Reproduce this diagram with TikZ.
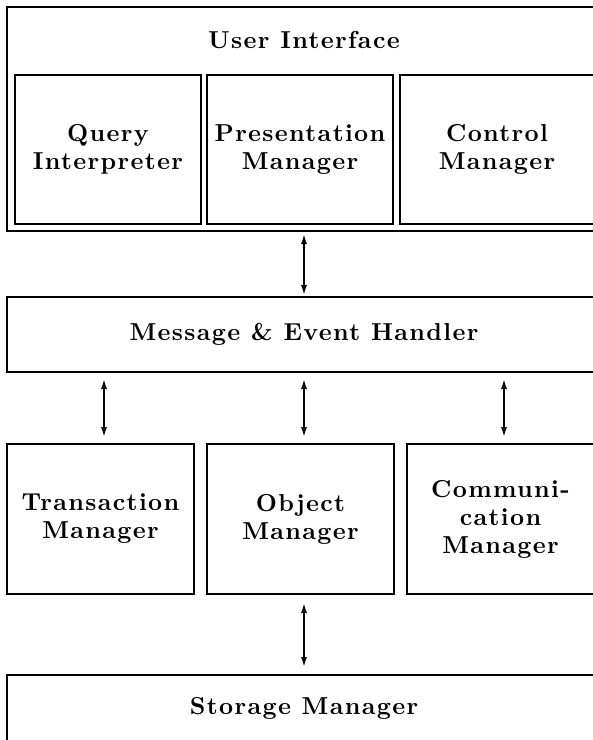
\documentclass[tikz,border=0pt]{standalone}
\usepackage{fontspec}
\setmainfont{lmroman10-regular.otf}[BoldFont=lmroman10-bold.otf]
\usetikzlibrary{arrows.meta,positioning}

\begin{document}
\begin{tikzpicture}[x=1pt,y=-1pt]

		\tikzstyle{boxtext}=[font=\fontsize{24.5}{28}\selectfont\bfseries\addfontfeatures{LetterSpace=5.5}]
		\tikzstyle{module}=[rectangle,boxtext,
			draw=black,line width=2.8pt,
			minimum width=186pt,minimum height=149pt,
			align=center,inner sep=0pt,outer sep=0pt]
		\tikzstyle{layer}=[module,minimum width=594pt]
		\tikzstyle{arrow}=[{Latex[length=11pt,width=6pt]}-{Latex[length=11pt,width=6pt]},
			draw=black,line width=2.6pt,
			shorten <=6pt,shorten >=6pt]

		\useasboundingbox (0,0) rectangle (593,740);
		\clip (0,0) rectangle (593,740);

		% user interface layer
		\node[layer,minimum height=224pt]	(ui)	at (304,119)	{};
		\node[boxtext]	(ui-title)	at (304,40)	{User Interface};
		\node[module]	(query)	at (108,149.5)	{Query\\ Interpreter};
		\node[module,right=6pt of query]	(present)	{Presentation\\ Manager};
		\node[module,right=7pt of present,minimum width=194pt]	(control)	{Control\\ Manager};

		\node[layer,minimum height=75pt]	(msg)	at (304,334.5)	{Message \& Event Handler};

		% managers
		\node[module,minimum width=187pt,minimum height=150pt]	(trans)	at (100.5,519)	{Transaction\\ Manager};
		\node[module,minimum width=187pt,minimum height=150pt,right=13pt of trans]	(object)	{Object\\ Manager};
		\node[module,minimum width=187pt,minimum height=150pt,right=13pt of object]	(comm)	{Communi-\\ cation\\ Manager};

		\node[layer,minimum height=66pt]	(store)	at (304,708)	{Storage Manager};

		\coordinate (msg-l) at ([xshift=-200pt]msg.south);
		\coordinate (msg-r) at ([xshift=200pt]msg.south);

		\draw[arrow,shorten <=2pt,shorten >=1pt]	(ui.south)	--	(msg.north);

		\draw[arrow]	(msg-l)	--	(msg-l |- trans.north);
		\draw[arrow]	(msg.south)	--	(msg.south |- object.north);
		\draw[arrow]	(msg-r)	--	(msg-r |- comm.north);

		\draw[arrow,shorten <=8pt,shorten >=7pt]	(object.south -| store.north)	--	(store.north);

	\end{tikzpicture}
\end{document}
